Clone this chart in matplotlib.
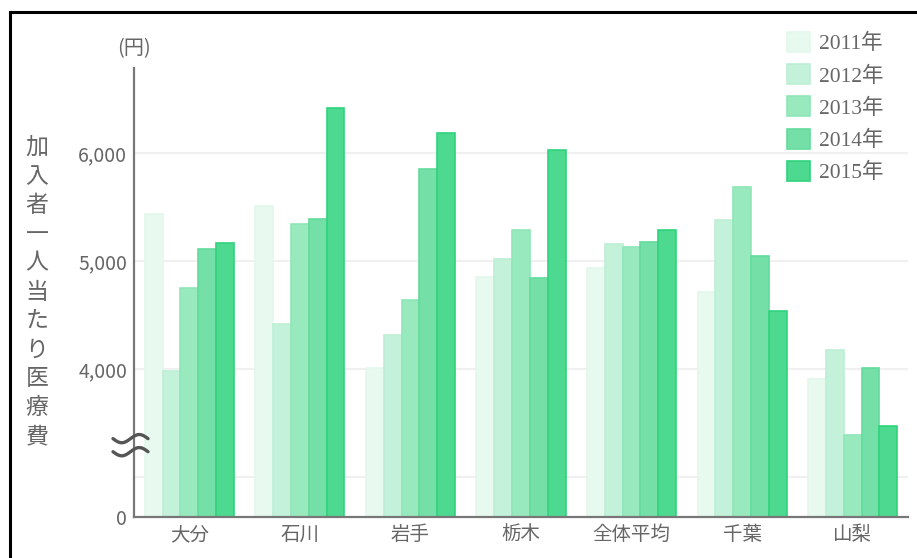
import numpy as np
import matplotlib
matplotlib.use("Agg")
import matplotlib.pyplot as plt
from matplotlib.patches import Patch
from matplotlib.lines import Line2D

plt.rcParams['font.family'] = ['Noto Sans CJK JP', 'DejaVu Sans']

# Data
categories = ["大分", "石川", "岩手", "栃木", "全体平均", "千葉", "山梨"]
years = ["2011年", "2012年", "2013年", "2014年", "2015年"]
v2011 = [5434, 5511, 4007, 4851, 4935, 4719, 3905]
v2012 = [3985, 4419, 4319, 5016, 5158, 5378, 4177]
v2013 = [4756, 5347, 4644, 5288, 5134, 5687, 3391]
v2014 = [5115, 5387, 5851, 4842, 5177, 5047, 4007]
v2015 = [5171, 6424, 6188, 6028, 5291, 4542, 3469]
series = [v2011, v2012, v2013, v2014, v2015]

ytick_vals = [4000, 5000, 6000]
ytick_text = ["4,000", "5,000", "6,000"]

fills = ["#e8f9f0", "#c3f1d9", "#99e9bf", "#74e0a8", "#4dd990"]
edges = ["#e3f7ec", "#bdefd4", "#8fe6b7", "#62db9b", "#2fd37c"]

GRAY = "#666666"

fig = plt.figure(figsize=(9.17, 5.58), dpi=100)
ax = fig.add_axes([134 / 917, 1 - 517 / 558, (908 - 134) / 917, (517 - 68) / 558])

ymin, ymax = 2630, 6790
x = np.arange(len(categories))
w = 0.161
for i, vals in enumerate(series):
    ax.bar(x + (i - 2) * w, vals, width=w, bottom=0, color=fills[i],
           edgecolor=edges[i], linewidth=1.2, label=years[i], zorder=3)

ax.set_xlim(-0.5, len(categories) - 0.5)
ax.set_ylim(ymin, ymax)

# grid lines (3000 line drawn without label)
for g in [3000] + ytick_vals:
    ax.axhline(g, color="#f0f0f0", linewidth=1.5, zorder=1)

ax.set_yticks([ymin] + ytick_vals)
ax.set_yticklabels(["0"] + ytick_text)
ax.set_xticks(x)
ax.set_xticklabels(categories)
ax.tick_params(axis="y", length=0, pad=5, labelsize=14, labelcolor=GRAY)
ax.tick_params(axis="x", length=0, pad=5, labelsize=14, labelcolor=GRAY)

for s in ["top", "right"]:
    ax.spines[s].set_visible(False)
for s in ["left", "bottom"]:
    ax.spines[s].set_color("#777777")
    ax.spines[s].set_linewidth(1.6)
ax.spines["bottom"].set_zorder(5)

# axis break mark
bx = np.linspace(-21, 14, 60)
t = (bx - bx[0]) / (bx[-1] - bx[0])
x0 = ax.get_xlim()[0]
for yb in [3356, 3235]:
    yy = yb - 38 * np.sin(2 * np.pi * t)
    ax.plot(x0 + bx / (774 / 7), yy, color="#555555", lw=2.4,
            clip_on=False, zorder=6, solid_capstyle="round")

ax.text(0, 1.043, "(円)", transform=ax.transAxes, ha="center", va="center",
        fontsize=14.5, color=GRAY)

# vertical y-axis title
ylabel = "加入者一人当たり医療費"
fig.text(37 / 917, 1 - 292 / 558, "\n".join(ylabel), ha="center", va="center",
         fontsize=16.5, color=GRAY, linespacing=1.33)

# legend
handles = [Patch(facecolor=fills[i], edgecolor=edges[i], linewidth=1.2) for i in range(5)]
leg = ax.legend(handles, years, loc="upper left", bbox_to_anchor=(787 / 917, 1 - 32 / 558),
                bbox_transform=fig.transFigure, frameon=False, handlelength=1.05,
                handleheight=1.05, handletextpad=0.42, labelspacing=0.46,
                borderaxespad=0, borderpad=0,
                prop={"family": ["Liberation Serif", "Noto Sans CJK JP"], "size": 15.5})
for tx in leg.get_texts():
    tx.set_color("#666666")

# frame around the figure
fig.add_artist(Line2D([10 / 917, 1.0], [1 - 12 / 558, 1 - 12 / 558], color="black", lw=2.2,
                      transform=fig.transFigure))
fig.add_artist(Line2D([10 / 917, 10 / 917], [0, 1 - 12 / 558], color="black", lw=2.2,
                      transform=fig.transFigure))

fig.savefig("out.png", dpi=100, facecolor="white")
